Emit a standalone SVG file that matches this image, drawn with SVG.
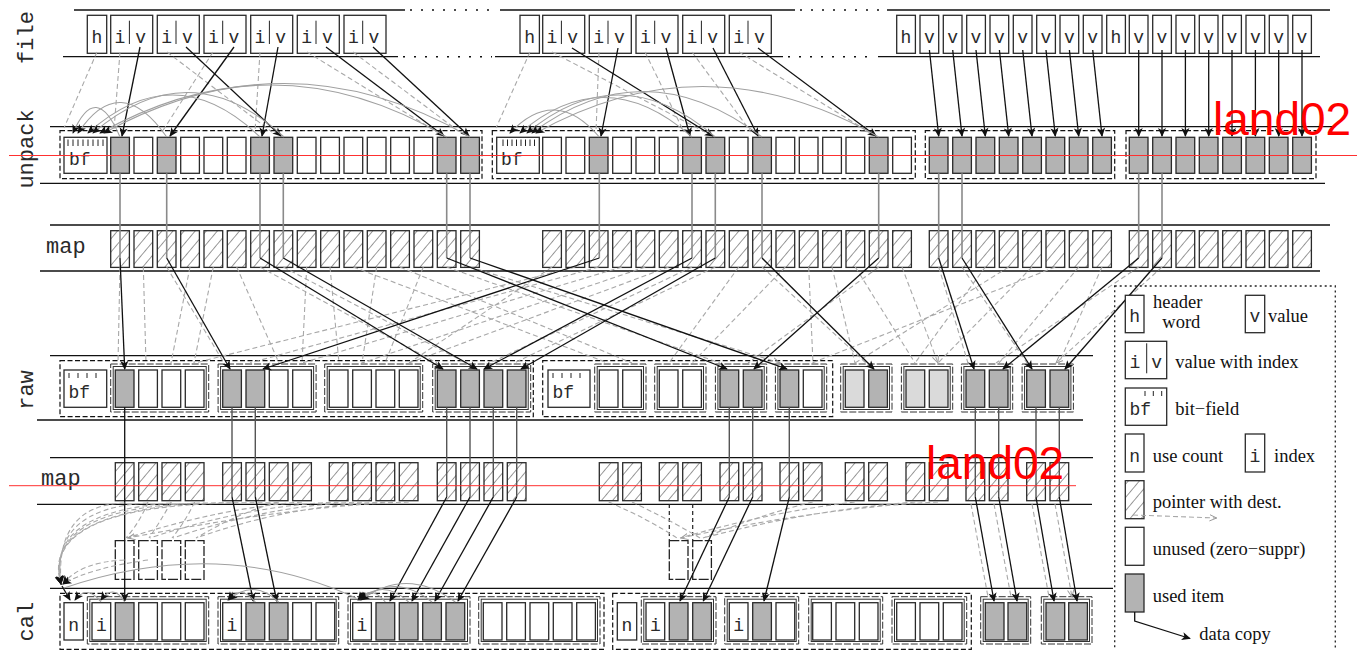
<svg xmlns="http://www.w3.org/2000/svg" width="1357" height="650" viewBox="0 0 1357 650">
<defs>
<pattern id="hatch" width="8.5" height="8.5" patternUnits="userSpaceOnUse" patternTransform="rotate(40)">
<line x1="0" y1="0" x2="0" y2="8.5" stroke="#333" stroke-width="1"/>
</pattern>
<marker id="ah" viewBox="0 0 10 10" refX="9" refY="5" markerWidth="10" markerHeight="9" orient="auto" markerUnits="userSpaceOnUse"><path d="M0,0.5 L10,5 L0,9.5 L2.5,5 z" fill="#111"/></marker>
<marker id="oh" viewBox="0 0 10 10" refX="9" refY="5" markerWidth="8" markerHeight="8" orient="auto" markerUnits="userSpaceOnUse"><path d="M0,1 L9,5 L0,9" fill="none" stroke="#999" stroke-width="1.2"/></marker>
<style>
.w{fill:#fff;stroke:#2a2a2a;stroke-width:1.3}
.g{fill:#b3b3b3;stroke:#2a2a2a;stroke-width:1.3}
.l{fill:#dadada;stroke:#2a2a2a;stroke-width:1.3}
.h{fill:url(#hatch);stroke:#2a2a2a;stroke-width:1.3}
.z{fill:#fff;stroke:#222;stroke-width:1.3;stroke-dasharray:10 2}
.rl{stroke:#111;stroke-width:1.3;fill:none}
.dt{stroke:#111;stroke-width:1.5;stroke-dasharray:2 9;fill:none}
.db{fill:none;stroke:#111;stroke-width:1.2;stroke-dasharray:5 2.5}
.sb{fill:none;stroke:#333;stroke-width:1}
.sbd{fill:none;stroke:#333;stroke-width:1;stroke-dasharray:7 2}
.tk{stroke:#222;stroke-width:1}
.mono{font-family:"Liberation Mono","DejaVu Sans Mono",monospace;fill:#2a2a2a}
.cl{font-size:18px;text-anchor:middle}
.bf{font-size:18px}
.lab{font-size:22px;text-anchor:middle}
.leg{font-family:"Liberation Serif","DejaVu Serif",serif;font-size:18.5px;fill:#111}
.a{stroke:#111;stroke-width:1.3;fill:none;marker-end:url(#ah)}
.p{stroke:#a8a8a8;stroke-width:1.1;fill:none;stroke-dasharray:5 3;marker-end:url(#oh)}
.pn{stroke:#a8a8a8;stroke-width:1.1;fill:none;stroke-dasharray:5 3;marker-end:url(#ah)}
.v{stroke:#8a8a8a;stroke-width:1.6;fill:none}
.vd{stroke:#555;stroke-width:1.4;fill:none}
.arc{stroke:#a0a0a0;stroke-width:1.1;fill:none;marker-end:url(#ah)}
.arcn{stroke:#a0a0a0;stroke-width:1.1;fill:none}
.bk{stroke:#222;stroke-width:1.2;stroke-dasharray:4 3;fill:none}
.red{fill:#ff0000;font-family:"Liberation Sans",Arial,sans-serif;font-size:46px}
</style>
</defs>
<rect width="1357" height="650" fill="#fff"/>

<!-- row lines and labels -->
<g id="rows">
<path class="rl" d="M74,10 H405 M500,10 H795 M887,10 H1330"/>
<path class="dt" d="M410,10 H498 M800,10 H885"/>
<path class="rl" d="M63,56.7 H398 M495,56.7 H783 M878,56.7 H1320"/>
<path class="dt" d="M403,56.7 H492 M788,56.7 H876"/>
<path class="rl" d="M50,126.7 H1333 M40,183.3 H1325"/>
<path class="rl" d="M50,225 H1330 M40,271 H1320"/>
<path class="rl" d="M50,355.7 H1093 M37,420 H1083"/>
<path class="rl" d="M50,457.7 H1093 M37,504.3 H1092"/>
<path class="rl" d="M50,588.3 H1113"/>
<text class="mono lab" transform="translate(33,37.5) rotate(-90)">file</text>
<text class="mono lab" transform="translate(33,149) rotate(-90)">unpack</text>
<text class="mono" font-size="22" x="46" y="253">map</text>
<text class="mono lab" transform="translate(33,390) rotate(-90)">raw</text>
<text class="mono" font-size="22" x="41" y="485">map</text>
<text class="mono lab" transform="translate(33,621.7) rotate(-90)">cal</text>
</g>

<!-- file row -->
<g id="file-g1">
<rect class="w" x="87.3" y="15.3" width="19.4" height="38"/><text class="mono cl" x="97" y="43">h</text>
<rect class="w" x="110.7" y="15.3" width="42" height="38"/><line class="tk" x1="129.4" y1="20.7" x2="129.4" y2="44"/><text class="mono cl" x="120" y="43">i</text><text class="mono cl" x="140.7" y="43">v</text>
<rect class="w" x="157.3" y="15.3" width="42" height="38"/><line class="tk" x1="176" y1="20.7" x2="176" y2="44"/><text class="mono cl" x="166.6" y="43">i</text><text class="mono cl" x="187.3" y="43">v</text>
<rect class="w" x="204" y="15.3" width="42" height="38"/><line class="tk" x1="222.7" y1="20.7" x2="222.7" y2="44"/><text class="mono cl" x="213.3" y="43">i</text><text class="mono cl" x="234" y="43">v</text>
<rect class="w" x="250.7" y="15.3" width="42" height="38"/><line class="tk" x1="269.4" y1="20.7" x2="269.4" y2="44"/><text class="mono cl" x="260" y="43">i</text><text class="mono cl" x="280.7" y="43">v</text>
<rect class="w" x="297.3" y="15.3" width="42" height="38"/><line class="tk" x1="316" y1="20.7" x2="316" y2="44"/><text class="mono cl" x="306.6" y="43">i</text><text class="mono cl" x="327.3" y="43">v</text>
<rect class="w" x="344" y="15.3" width="42" height="38"/><line class="tk" x1="362.7" y1="20.7" x2="362.7" y2="44"/><text class="mono cl" x="353.3" y="43">i</text><text class="mono cl" x="374" y="43">v</text>
</g>
<g id="file-g2">
<rect class="w" x="520" y="15.3" width="19.4" height="38"/><text class="mono cl" x="529.7" y="43">h</text>
<rect class="w" x="542.7" y="15.3" width="42" height="38"/><line class="tk" x1="561.4" y1="20.7" x2="561.4" y2="44"/><text class="mono cl" x="552" y="43">i</text><text class="mono cl" x="572.7" y="43">v</text>
<rect class="w" x="589.3" y="15.3" width="42" height="38"/><line class="tk" x1="608" y1="20.7" x2="608" y2="44"/><text class="mono cl" x="598.6" y="43">i</text><text class="mono cl" x="619.3" y="43">v</text>
<rect class="w" x="636" y="15.3" width="42" height="38"/><line class="tk" x1="654.7" y1="20.7" x2="654.7" y2="44"/><text class="mono cl" x="645.3" y="43">i</text><text class="mono cl" x="666" y="43">v</text>
<rect class="w" x="682.7" y="15.3" width="42" height="38"/><line class="tk" x1="701.4" y1="20.7" x2="701.4" y2="44"/><text class="mono cl" x="692" y="43">i</text><text class="mono cl" x="712.7" y="43">v</text>
<rect class="w" x="729.3" y="15.3" width="42" height="38"/><line class="tk" x1="748" y1="20.7" x2="748" y2="44"/><text class="mono cl" x="738.6" y="43">i</text><text class="mono cl" x="759.3" y="43">v</text>
</g>
<g id="file-g3">
<rect class="w" x="896.7" y="15.3" width="18.7" height="38"/><text class="mono cl" x="906" y="43">h</text>
<rect class="w" x="920" y="15.3" width="18.7" height="38"/><text class="mono cl" x="929.4" y="43">v</text>
<rect class="w" x="943.3" y="15.3" width="18.7" height="38"/><text class="mono cl" x="952.7" y="43">v</text>
<rect class="w" x="966.7" y="15.3" width="18.7" height="38"/><text class="mono cl" x="976" y="43">v</text>
<rect class="w" x="990" y="15.3" width="18.7" height="38"/><text class="mono cl" x="999.4" y="43">v</text>
<rect class="w" x="1013.3" y="15.3" width="18.7" height="38"/><text class="mono cl" x="1022.7" y="43">v</text>
<rect class="w" x="1036.7" y="15.3" width="18.7" height="38"/><text class="mono cl" x="1046" y="43">v</text>
<rect class="w" x="1060" y="15.3" width="18.7" height="38"/><text class="mono cl" x="1069.4" y="43">v</text>
<rect class="w" x="1083.3" y="15.3" width="18.7" height="38"/><text class="mono cl" x="1092.7" y="43">v</text>
<rect class="w" x="1106.7" y="15.3" width="18.7" height="38"/><text class="mono cl" x="1116" y="43">h</text>
<rect class="w" x="1129.3" y="15.3" width="18.7" height="38"/><text class="mono cl" x="1138.7" y="43">v</text>
<rect class="w" x="1152.7" y="15.3" width="18.7" height="38"/><text class="mono cl" x="1162" y="43">v</text>
<rect class="w" x="1176" y="15.3" width="18.7" height="38"/><text class="mono cl" x="1185.4" y="43">v</text>
<rect class="w" x="1199.3" y="15.3" width="18.7" height="38"/><text class="mono cl" x="1208.7" y="43">v</text>
<rect class="w" x="1222.7" y="15.3" width="18.7" height="38"/><text class="mono cl" x="1232" y="43">v</text>
<rect class="w" x="1246" y="15.3" width="18.7" height="38"/><text class="mono cl" x="1255.4" y="43">v</text>
<rect class="w" x="1269.3" y="15.3" width="18.7" height="38"/><text class="mono cl" x="1278.7" y="43">v</text>
<rect class="w" x="1292.7" y="15.3" width="18.7" height="38"/><text class="mono cl" x="1302" y="43">v</text>
</g>

<!-- unpack row -->
<g id="unpack-g1">
<rect class="db" x="60" y="130.7" width="422" height="48"/>
<rect class="w" x="64" y="137.3" width="43" height="36"/>
<path class="tk" d="M68,139.5v6.5M73,139.5v6.5M78,139.5v6.5M83,139.5v6.5M88,139.5v6.5M93,139.5v6.5M98,139.5v6.5M103,139.5v6.5"/>
<text class="mono bf" x="69" y="165">bf</text>
<rect class="g" x="110.7" y="137.3" width="18.7" height="36"/><rect class="w" x="134" y="137.3" width="18.7" height="36"/><rect class="g" x="157.3" y="137.3" width="18.7" height="36"/><rect class="w" x="180.7" y="137.3" width="18.7" height="36"/>
<rect class="w" x="204" y="137.3" width="18.7" height="36"/><rect class="w" x="227.3" y="137.3" width="18.7" height="36"/><rect class="g" x="250.7" y="137.3" width="18.7" height="36"/><rect class="g" x="274" y="137.3" width="18.7" height="36"/>
<rect class="w" x="297.3" y="137.3" width="18.7" height="36"/><rect class="w" x="320.7" y="137.3" width="18.7" height="36"/><rect class="w" x="344" y="137.3" width="18.7" height="36"/><rect class="w" x="367.3" y="137.3" width="18.7" height="36"/>
<rect class="w" x="390.7" y="137.3" width="18.7" height="36"/><rect class="w" x="414" y="137.3" width="18.7" height="36"/><rect class="g" x="437.3" y="137.3" width="18.7" height="36"/><rect class="g" x="460.7" y="137.3" width="18.7" height="36"/>
</g>
<g id="unpack-g2">
<rect class="db" x="492.3" y="130.7" width="423" height="48"/>
<rect class="w" x="496.7" y="137.3" width="42.6" height="36"/>
<path class="tk" d="M503,139.5v6.5M507.5,139.5v6.5M512,139.5v6.5M516.5,139.5v6.5M521,139.5v6.5M525.5,139.5v6.5M530,139.5v6.5M534.5,139.5v6.5"/>
<text class="mono bf" x="501" y="165">bf</text>
<rect class="w" x="542.7" y="137.3" width="18.7" height="36"/><rect class="w" x="566" y="137.3" width="18.7" height="36"/><rect class="g" x="589.3" y="137.3" width="18.7" height="36"/><rect class="w" x="612.7" y="137.3" width="18.7" height="36"/>
<rect class="w" x="636" y="137.3" width="18.7" height="36"/><rect class="w" x="659.3" y="137.3" width="18.7" height="36"/><rect class="g" x="682.7" y="137.3" width="18.7" height="36"/><rect class="g" x="706" y="137.3" width="18.7" height="36"/>
<rect class="w" x="729.3" y="137.3" width="18.7" height="36"/><rect class="g" x="752.7" y="137.3" width="18.7" height="36"/><rect class="w" x="776" y="137.3" width="18.7" height="36"/><rect class="w" x="799.3" y="137.3" width="18.7" height="36"/>
<rect class="w" x="822.7" y="137.3" width="18.7" height="36"/><rect class="w" x="846" y="137.3" width="18.7" height="36"/><rect class="g" x="869.3" y="137.3" width="18.7" height="36"/><rect class="w" x="892.7" y="137.3" width="18.7" height="36"/>
</g>
<g id="unpack-g3">
<rect class="db" x="925.3" y="130.7" width="189.4" height="48"/>
<rect class="g" x="929.3" y="137.3" width="18.7" height="36"/><rect class="g" x="952.7" y="137.3" width="18.7" height="36"/><rect class="g" x="976" y="137.3" width="18.7" height="36"/><rect class="g" x="999.3" y="137.3" width="18.7" height="36"/>
<rect class="g" x="1022.7" y="137.3" width="18.7" height="36"/><rect class="g" x="1046" y="137.3" width="18.7" height="36"/><rect class="g" x="1069.3" y="137.3" width="18.7" height="36"/><rect class="g" x="1092.7" y="137.3" width="18.7" height="36"/>
</g>
<g id="unpack-g4">
<rect class="db" x="1126" y="130.7" width="190" height="48"/>
<rect class="g" x="1129.3" y="137.3" width="18.7" height="36"/><rect class="g" x="1152.7" y="137.3" width="18.7" height="36"/><rect class="g" x="1176" y="137.3" width="18.7" height="36"/><rect class="g" x="1199.3" y="137.3" width="18.7" height="36"/>
<rect class="g" x="1222.7" y="137.3" width="18.7" height="36"/><rect class="g" x="1246" y="137.3" width="18.7" height="36"/><rect class="g" x="1269.3" y="137.3" width="18.7" height="36"/><rect class="g" x="1292.7" y="137.3" width="18.7" height="36"/>
</g>

<!-- map row 1 -->
<g id="map1-g1">
<rect class="h" x="110.7" y="230.7" width="18.7" height="36.7"/><rect class="h" x="134" y="230.7" width="18.7" height="36.7"/><rect class="h" x="157.3" y="230.7" width="18.7" height="36.7"/><rect class="h" x="180.7" y="230.7" width="18.7" height="36.7"/>
<rect class="h" x="204" y="230.7" width="18.7" height="36.7"/><rect class="h" x="227.3" y="230.7" width="18.7" height="36.7"/><rect class="h" x="250.7" y="230.7" width="18.7" height="36.7"/><rect class="h" x="274" y="230.7" width="18.7" height="36.7"/>
<rect class="h" x="297.3" y="230.7" width="18.7" height="36.7"/><rect class="h" x="320.7" y="230.7" width="18.7" height="36.7"/><rect class="h" x="344" y="230.7" width="18.7" height="36.7"/><rect class="h" x="367.3" y="230.7" width="18.7" height="36.7"/>
<rect class="h" x="390.7" y="230.7" width="18.7" height="36.7"/><rect class="h" x="414" y="230.7" width="18.7" height="36.7"/><rect class="h" x="437.3" y="230.7" width="18.7" height="36.7"/><rect class="h" x="460.7" y="230.7" width="18.7" height="36.7"/>
</g>
<g id="map1-g2">
<rect class="h" x="542.7" y="230.7" width="18.7" height="36.7"/><rect class="h" x="566" y="230.7" width="18.7" height="36.7"/><rect class="h" x="589.3" y="230.7" width="18.7" height="36.7"/><rect class="h" x="612.7" y="230.7" width="18.7" height="36.7"/>
<rect class="h" x="636" y="230.7" width="18.7" height="36.7"/><rect class="h" x="659.3" y="230.7" width="18.7" height="36.7"/><rect class="h" x="682.7" y="230.7" width="18.7" height="36.7"/><rect class="h" x="706" y="230.7" width="18.7" height="36.7"/>
<rect class="h" x="729.3" y="230.7" width="18.7" height="36.7"/><rect class="h" x="752.7" y="230.7" width="18.7" height="36.7"/><rect class="h" x="776" y="230.7" width="18.7" height="36.7"/><rect class="h" x="799.3" y="230.7" width="18.7" height="36.7"/>
<rect class="h" x="822.7" y="230.7" width="18.7" height="36.7"/><rect class="h" x="846" y="230.7" width="18.7" height="36.7"/><rect class="h" x="869.3" y="230.7" width="18.7" height="36.7"/><rect class="h" x="892.7" y="230.7" width="18.7" height="36.7"/>
</g>
<g id="map1-g3">
<rect class="h" x="929.3" y="230.7" width="18.7" height="36.7"/><rect class="h" x="952.7" y="230.7" width="18.7" height="36.7"/><rect class="h" x="976" y="230.7" width="18.7" height="36.7"/><rect class="h" x="999.3" y="230.7" width="18.7" height="36.7"/>
<rect class="h" x="1022.7" y="230.7" width="18.7" height="36.7"/><rect class="h" x="1046" y="230.7" width="18.7" height="36.7"/><rect class="h" x="1069.3" y="230.7" width="18.7" height="36.7"/><rect class="h" x="1092.7" y="230.7" width="18.7" height="36.7"/>
</g>
<g id="map1-g4">
<rect class="h" x="1129.3" y="230.7" width="18.7" height="36.7"/><rect class="h" x="1152.7" y="230.7" width="18.7" height="36.7"/><rect class="h" x="1176" y="230.7" width="18.7" height="36.7"/><rect class="h" x="1199.3" y="230.7" width="18.7" height="36.7"/>
<rect class="h" x="1222.7" y="230.7" width="18.7" height="36.7"/><rect class="h" x="1246" y="230.7" width="18.7" height="36.7"/><rect class="h" x="1269.3" y="230.7" width="18.7" height="36.7"/><rect class="h" x="1292.7" y="230.7" width="18.7" height="36.7"/>
</g>

<!-- raw row -->
<g id="raw-g1">
<rect class="db" x="60" y="360.7" width="473.3" height="56"/>
<rect class="w" x="64" y="370" width="42.7" height="37.3"/>
<path class="tk" d="M69,373v5M78,373v5M87,373v5M96,373v5"/>
<text class="mono bf" x="68.5" y="397.5">bf</text>
<rect class="sbd" x="110.7" y="364" width="98" height="48"/><rect class="sb" x="113.2" y="366.5" width="93" height="43"/>
<rect class="sbd" x="218.1" y="364" width="98" height="48"/><rect class="sb" x="220.6" y="366.5" width="93" height="43"/>
<rect class="sbd" x="324.7" y="364" width="98" height="48"/><rect class="sb" x="327.2" y="366.5" width="93" height="43"/>
<rect class="sbd" x="432.7" y="364" width="98" height="48"/><rect class="sb" x="435.2" y="366.5" width="93" height="43"/>
<rect class="g" x="115.3" y="370" width="18.7" height="37.3"/><rect class="w" x="138.7" y="370" width="18.7" height="37.3"/><rect class="w" x="162" y="370" width="18.7" height="37.3"/><rect class="w" x="185.3" y="370" width="18.7" height="37.3"/>
<rect class="g" x="222.7" y="370" width="18.7" height="37.3"/><rect class="g" x="246" y="370" width="18.7" height="37.3"/><rect class="w" x="269.3" y="370" width="18.7" height="37.3"/><rect class="w" x="292.7" y="370" width="18.7" height="37.3"/>
<rect class="w" x="329.3" y="370" width="18.7" height="37.3"/><rect class="w" x="352.7" y="370" width="18.7" height="37.3"/><rect class="w" x="376" y="370" width="18.7" height="37.3"/><rect class="w" x="399.3" y="370" width="18.7" height="37.3"/>
<rect class="g" x="437.3" y="370" width="18.7" height="37.3"/><rect class="g" x="460.7" y="370" width="18.7" height="37.3"/><rect class="g" x="484" y="370" width="18.7" height="37.3"/><rect class="g" x="507.3" y="370" width="18.7" height="37.3"/>
</g>
<g id="raw-g2">
<rect class="db" x="542.7" y="360.7" width="290" height="56"/>
<rect class="w" x="548" y="370" width="42" height="37.3"/>
<path class="tk" d="M553,373v5M562,373v5M571,373v5M580,373v5"/>
<text class="mono bf" x="552.5" y="397.5">bf</text>
<rect class="sbd" x="594.7" y="364" width="51.3" height="48"/><rect class="sb" x="597.2" y="366.5" width="46.3" height="43"/>
<rect class="sbd" x="654.7" y="364" width="51.3" height="48"/><rect class="sb" x="657.2" y="366.5" width="46.3" height="43"/>
<rect class="sbd" x="715.4" y="364" width="51.3" height="48"/><rect class="sb" x="717.9" y="366.5" width="46.3" height="43"/>
<rect class="sbd" x="775.4" y="364" width="51.3" height="48"/><rect class="sb" x="777.9" y="366.5" width="46.3" height="43"/>
<rect class="w" x="599.3" y="370" width="18.7" height="37.3"/><rect class="w" x="622.7" y="370" width="18.7" height="37.3"/>
<rect class="w" x="659.3" y="370" width="18.7" height="37.3"/><rect class="w" x="682.7" y="370" width="18.7" height="37.3"/>
<rect class="g" x="720" y="370" width="18.7" height="37.3"/><rect class="g" x="743.3" y="370" width="18.7" height="37.3"/>
<rect class="g" x="780" y="370" width="18.7" height="37.3"/><rect class="w" x="803.3" y="370" width="18.7" height="37.3"/>
</g>
<g id="raw-g3">
<rect class="sbd" x="840.7" y="364" width="51.3" height="48"/><rect class="sb" x="843.2" y="366.5" width="46.3" height="43"/>
<rect class="sbd" x="901.4" y="364" width="51.3" height="48"/><rect class="sb" x="903.9" y="366.5" width="46.3" height="43"/>
<rect class="sbd" x="961.4" y="364" width="51.3" height="48"/><rect class="sb" x="963.9" y="366.5" width="46.3" height="43"/>
<rect class="sbd" x="1022.1" y="364" width="51.3" height="48"/><rect class="sb" x="1024.6" y="366.5" width="46.3" height="43"/>
<rect class="l" x="845.3" y="370" width="18.7" height="37.3"/><rect class="g" x="868.7" y="370" width="18.7" height="37.3"/>
<rect class="l" x="906" y="370" width="18.7" height="37.3"/><rect class="l" x="929.3" y="370" width="18.7" height="37.3"/>
<rect class="g" x="966" y="370" width="18.7" height="37.3"/><rect class="g" x="989.3" y="370" width="18.7" height="37.3"/>
<rect class="g" x="1026.7" y="370" width="18.7" height="37.3"/><rect class="g" x="1050" y="370" width="18.7" height="37.3"/>
</g>

<!-- map row 2 -->
<g id="map2">
<rect class="h" x="115.3" y="462.7" width="18.7" height="38"/><rect class="h" x="138.7" y="462.7" width="18.7" height="38"/><rect class="h" x="162" y="462.7" width="18.7" height="38"/><rect class="h" x="185.3" y="462.7" width="18.7" height="38"/>
<rect class="h" x="222.7" y="462.7" width="18.7" height="38"/><rect class="h" x="246" y="462.7" width="18.7" height="38"/><rect class="h" x="269.3" y="462.7" width="18.7" height="38"/><rect class="h" x="292.7" y="462.7" width="18.7" height="38"/>
<rect class="h" x="329.3" y="462.7" width="18.7" height="38"/><rect class="h" x="352.7" y="462.7" width="18.7" height="38"/><rect class="h" x="376" y="462.7" width="18.7" height="38"/><rect class="h" x="399.3" y="462.7" width="18.7" height="38"/>
<rect class="h" x="437.3" y="462.7" width="18.7" height="38"/><rect class="h" x="460.7" y="462.7" width="18.7" height="38"/><rect class="h" x="484" y="462.7" width="18.7" height="38"/><rect class="h" x="507.3" y="462.7" width="18.7" height="38"/>
<rect class="h" x="599.3" y="462.7" width="18.7" height="38"/><rect class="h" x="622.7" y="462.7" width="18.7" height="38"/>
<rect class="h" x="659.3" y="462.7" width="18.7" height="38"/><rect class="h" x="682.7" y="462.7" width="18.7" height="38"/>
<rect class="h" x="720" y="462.7" width="18.7" height="38"/><rect class="h" x="743.3" y="462.7" width="18.7" height="38"/>
<rect class="h" x="780" y="462.7" width="18.7" height="38"/><rect class="h" x="803.3" y="462.7" width="18.7" height="38"/>
<rect class="h" x="845.3" y="462.7" width="18.7" height="38"/><rect class="h" x="868.7" y="462.7" width="18.7" height="38"/>
<rect class="h" x="906" y="462.7" width="18.7" height="38"/><rect class="h" x="929.3" y="462.7" width="18.7" height="38"/>
<rect class="h" x="966" y="462.7" width="18.7" height="38"/><rect class="h" x="989.3" y="462.7" width="18.7" height="38"/>
<rect class="h" x="1026.7" y="462.7" width="18.7" height="38"/><rect class="h" x="1050" y="462.7" width="18.7" height="38"/>
</g>

<!-- zero-suppressed placeholders -->
<g id="zero">
<rect class="z" x="115.3" y="540.7" width="18.7" height="38.6"/><rect class="z" x="138.7" y="540.7" width="18.7" height="38.6"/><rect class="z" x="162" y="540.7" width="18.7" height="38.6"/><rect class="z" x="185.3" y="540.7" width="18.7" height="38.6"/>
<rect class="z" x="669.3" y="540.7" width="18.7" height="38.6"/><rect class="z" x="692.7" y="540.7" width="18.7" height="38.6"/>
</g>

<!-- cal row -->
<g id="cal-g1">
<rect class="db" x="60" y="593.3" width="544" height="56"/>
<rect class="w" x="64" y="602.7" width="19.3" height="37.3"/><text class="mono cl" x="73.7" y="630.5">n</text>
<rect class="sbd" x="87.3" y="596.7" width="121.4" height="47.3"/><rect class="sb" x="89.8" y="599.2" width="116.4" height="42.3"/>
<rect class="sbd" x="218" y="596.7" width="120.7" height="47.3"/><rect class="sb" x="220.5" y="599.2" width="115.7" height="42.3"/>
<rect class="sbd" x="348" y="596.7" width="122" height="47.3"/><rect class="sb" x="350.5" y="599.2" width="117" height="42.3"/>
<rect class="sbd" x="478.7" y="596.7" width="121.3" height="47.3"/><rect class="sb" x="481.2" y="599.2" width="116.3" height="42.3"/>
<rect class="w" x="92" y="602.7" width="18.7" height="37.3"/><text class="mono cl" x="101.3" y="630.5">i</text>
<rect class="g" x="115.3" y="602.7" width="18.7" height="37.3"/><rect class="w" x="138.7" y="602.7" width="18.7" height="37.3"/><rect class="w" x="162" y="602.7" width="18.7" height="37.3"/><rect class="w" x="185.3" y="602.7" width="18.7" height="37.3"/>
<rect class="w" x="222.7" y="602.7" width="18.7" height="37.3"/><text class="mono cl" x="232" y="630.5">i</text>
<rect class="g" x="246" y="602.7" width="18.7" height="37.3"/><rect class="g" x="269.3" y="602.7" width="18.7" height="37.3"/><rect class="w" x="292.7" y="602.7" width="18.7" height="37.3"/><rect class="w" x="316" y="602.7" width="18.7" height="37.3"/>
<rect class="w" x="352.7" y="602.7" width="18.7" height="37.3"/><text class="mono cl" x="362" y="630.5">i</text>
<rect class="g" x="376" y="602.7" width="18.7" height="37.3"/><rect class="g" x="399.3" y="602.7" width="18.7" height="37.3"/><rect class="g" x="422.7" y="602.7" width="18.7" height="37.3"/><rect class="g" x="446" y="602.7" width="18.7" height="37.3"/>
<rect class="w" x="483.3" y="602.7" width="18.7" height="37.3"/><rect class="w" x="506.7" y="602.7" width="18.7" height="37.3"/><rect class="w" x="530" y="602.7" width="18.7" height="37.3"/><rect class="w" x="553.3" y="602.7" width="18.7" height="37.3"/><rect class="w" x="576.7" y="602.7" width="18.7" height="37.3"/>
</g>
<g id="cal-g2">
<rect class="db" x="612.7" y="593.3" width="358.6" height="56"/>
<rect class="w" x="617.3" y="602.7" width="19.4" height="37.3"/><text class="mono cl" x="627" y="630.5">n</text>
<rect class="sbd" x="641.3" y="596.7" width="74.7" height="47.3"/><rect class="sb" x="643.8" y="599.2" width="69.7" height="42.3"/>
<rect class="sbd" x="724.7" y="596.7" width="74" height="47.3"/><rect class="sb" x="727.2" y="599.2" width="69" height="42.3"/>
<rect class="sbd" x="808.7" y="596.7" width="74" height="47.3"/><rect class="sb" x="811.2" y="599.2" width="69" height="42.3"/>
<rect class="sbd" x="892" y="596.7" width="74.7" height="47.3"/><rect class="sb" x="894.5" y="599.2" width="69.7" height="42.3"/>
<rect class="w" x="646" y="602.7" width="18.7" height="37.3"/><text class="mono cl" x="655.3" y="630.5">i</text>
<rect class="g" x="669.3" y="602.7" width="18.7" height="37.3"/><rect class="g" x="692.7" y="602.7" width="18.7" height="37.3"/>
<rect class="w" x="729.3" y="602.7" width="18.7" height="37.3"/><text class="mono cl" x="738.6" y="630.5">i</text>
<rect class="g" x="752.7" y="602.7" width="18.7" height="37.3"/><rect class="w" x="776" y="602.7" width="18.7" height="37.3"/>
<rect class="w" x="812.7" y="602.7" width="18.7" height="37.3"/><rect class="w" x="836" y="602.7" width="18.7" height="37.3"/><rect class="w" x="859.3" y="602.7" width="18.7" height="37.3"/>
<rect class="w" x="896.7" y="602.7" width="18.7" height="37.3"/><rect class="w" x="920" y="602.7" width="18.7" height="37.3"/><rect class="w" x="943.3" y="602.7" width="18.7" height="37.3"/>
</g>
<g id="cal-g3">
<rect class="sbd" x="980.7" y="596.7" width="50" height="47.3"/><rect class="sb" x="983.2" y="599.2" width="45" height="42.3"/>
<rect class="sbd" x="1041.3" y="596.7" width="50.7" height="47.3"/><rect class="sb" x="1043.8" y="599.2" width="45.7" height="42.3"/>
<rect class="g" x="985.3" y="602.7" width="18.7" height="37.3"/><rect class="g" x="1008" y="602.7" width="18.7" height="37.3"/>
<rect class="g" x="1046" y="602.7" width="18.7" height="37.3"/><rect class="g" x="1068.7" y="602.7" width="18.7" height="37.3"/>
</g>

<!-- connectors -->
<g id="connectors">
<path class="p" d="M97,52 L64,128 M120,52 L114,130 M167,52 L272,132 M213,52 L162,132 M260,52 L255,132 M307,52 L437,132 M353,52 L457,130 M530,52 L496,128 M552,52 L705,132 M599,52 L596,132 M645,52 L684,132 M692,52 L751,132 M739,52 L869,132"/>
<path class="a" d="M140,47 L122,136"/><path class="a" d="M186,47 L281,136"/><path class="a" d="M234,47 L170,136"/><path class="a" d="M278,47 L262,136"/><path class="a" d="M326,47 L444,136"/><path class="a" d="M373,47 L469,136"/>
<path class="a" d="M572,48 L713,136"/><path class="a" d="M618,48 L601,136"/><path class="a" d="M666,48 L690,136"/><path class="a" d="M713,48 L758,136"/><path class="a" d="M758,48 L876,136"/>
<path class="a" d="M929.4,50 L938.7,136"/><path class="a" d="M952.7,50 L962,136"/><path class="a" d="M976,50 L985.3,136"/><path class="a" d="M999.4,50 L1008.7,136"/><path class="a" d="M1022.7,50 L1032,136"/><path class="a" d="M1046,50 L1055.3,136"/><path class="a" d="M1069.4,50 L1078.7,136"/><path class="a" d="M1092.7,50 L1102,136"/>
<path class="a" d="M1138.7,50 V136"/><path class="a" d="M1162,50 V136"/><path class="a" d="M1185.4,50 V136"/><path class="a" d="M1208.7,50 V136"/><path class="a" d="M1232,50 V136"/><path class="a" d="M1255.4,50 V136"/><path class="a" d="M1278.7,50 V136"/><path class="a" d="M1302,50 V136"/>
<path class="arc" d="M120,137 Q96,80 73,133"/><path class="arc" d="M166.7,137 Q120,70 78,133"/><path class="arc" d="M260,137 Q175,55 88,133"/><path class="arc" d="M284,137 Q190,50 93,133"/><path class="arc" d="M446.7,137 Q275,35 100,133"/><path class="arc" d="M470,137 Q288,32 104,133"/>
<path class="arc" d="M599.3,137 Q555,85 510,133"/><path class="arc" d="M692,137 Q605,60 520,133"/><path class="arc" d="M715.3,137 Q620,55 527,133"/><path class="arc" d="M762,137 Q645,48 532,133"/><path class="arc" d="M878.7,137 Q705,38 536,133"/>
<path class="v" d="M120,173.3V258 M166.7,173.3V258 M260,173.3V258 M283.3,173.3V258 M446.7,173.3V258 M470,173.3V258 M599.3,173.3V258 M692,173.3V258 M715.3,173.3V258 M762,173.3V258 M878.7,173.3V258 M938.7,173.3V258 M962,173.3V258 M1138.7,173.3V258 M1162,173.3V258"/>
<path class="p" d="M120,267 L118,363 M143.3,267 L146,363 M166.7,267 L224,363 M190,267 L171,363 M213.3,267 L194,363 M236.7,267 L279,363 M260,267 L437,363 M283.3,267 L466,363 M306.7,267 L302,363 M330,267 L339,363 M353.3,267 L608,363 M376.7,267 L362,363 M400,267 L632,363 M423.3,267 L385,363 M446.7,267 L720,363 M470,267 L780,363"/>
<path class="p" d="M552,267 L409,363 M575.3,267 L195,363 M598.7,267 L250,363 M622,267 L302,363 M645.3,267 L362,363 M668.7,267 L409,363 M692,267 L490,363 M715.3,267 L514,363 M738.7,267 L669,363 M762,267 L866,363 M785.3,267 L692,363 M808.7,267 L813,363 M832,267 L855,363 M855.3,267 L915,363 M878.7,267 L748,363 M902,267 L938,363"/>
<path class="p" d="M938.7,267 L968,363 M962,267 L1027,363 M985.3,267 L915,363 M1008.7,267 L855,363 M1032,267 L938,363 M1055.3,267 L812,363 M1078.7,267 L999,363 M1102,267 L1059,363 M1138.7,267 L996,363 M1162,267 L1056,363"/>
<path class="a" d="M120,258 L124.7,369"/><path class="a" d="M166.7,258 L230,369"/><path class="a" d="M260,258 L443,369"/><path class="a" d="M283.3,258 L477,369"/><path class="a" d="M446.7,258 L727,369"/><path class="a" d="M470,258 L787,369"/>
<path class="a" d="M599.3,258 L263,369"/><path class="a" d="M692,258 L484,369"/><path class="a" d="M715.3,258 L521,369"/><path class="a" d="M762,258 L874,369"/><path class="a" d="M878.7,258 L754,369"/>
<path class="a" d="M938.7,258 L974,369"/><path class="a" d="M962,258 L1032,369"/><path class="a" d="M1138.7,258 L1003,369"/><path class="a" d="M1162,258 L1065,369"/>
<path class="vd" d="M232,407.3V497 M255.3,407.3V497 M446.7,407.3V497 M470,407.3V497 M493.3,407.3V497 M516.7,407.3V497 M729.3,407.3V497 M752.7,407.3V497 M789.3,407.3V497 M975.3,407.3V497 M998.7,407.3V497 M1036,407.3V497 M1059.3,407.3V497"/>
<path class="a" d="M124.7,407.3 V601"/>
<path class="bk" d="M669.3,504 V540 M692.7,504 V540"/>
<path class="p" d="M148,502 Q140,522 126,538 M171.3,502 Q160,522 149,538 M194.7,502 Q185,522 172,538 M278.7,502 Q240,512 196,538 M302,502 Q220,508 127,538 M338.7,502 Q250,505 150,538 M362,502 Q270,505 173,538 M385.3,502 Q290,505 196,538 M408.7,502 Q300,505 128,538"/>
<path class="p" d="M608.7,502 Q650,520 677,538 M632,502 Q670,520 700,538 M812.7,502 Q760,515 703,538 M854.7,502 Q770,512 680,538 M915.3,502 Q810,510 703,538 M938,502 Q820,508 681,538"/>
<path class="p" d="M971,504 L988,597 M994,504 L1011,597 M1032,504 L1049,597 M1055,504 L1072,597"/>
<path class="pn" d="M124.7,503 Q55,505 61,584"/><path class="pn" d="M148,503 Q50,508 61,584"/><path class="pn" d="M171.3,503 Q45,512 61,584"/><path class="pn" d="M194.7,503 Q40,516 61,584"/><path class="pn" d="M232,503 Q42,500 61,584"/><path class="pn" d="M278.7,503 Q38,498 61,584"/><path class="pn" d="M124.7,560 Q80,562 63,584"/><path class="pn" d="M148,560 Q90,568 63,584"/>
<path class="a" d="M232,497 L253.3,601"/><path class="a" d="M255.3,497 L276.7,601"/>
<path class="a" d="M446.7,497 L390,601"/><path class="a" d="M470,497 L412,601"/><path class="a" d="M493.3,497 L435,601"/><path class="a" d="M516.7,497 L458,601"/>
<path class="a" d="M729.3,497 L680,601"/><path class="a" d="M752.7,497 L703.3,601"/><path class="a" d="M789.3,497 L764,601"/>
<path class="a" d="M975.3,497 L994,601"/><path class="a" d="M998.7,497 L1017,601"/><path class="a" d="M1036,497 L1054,601"/><path class="a" d="M1059.3,497 L1077,601"/>
<path class="a" d="M62,586 L70,600"/>
<path class="arcn" d="M356,598 Q220,535 64,588"/>
<path class="arc" d="M124.7,602 Q113,583 101,600"/><path class="arc" d="M101,602 Q87,584 75,600"/>
<path class="arc" d="M255.3,602 Q241,584 228,600"/><path class="arc" d="M278.7,602 Q253,578 229,600"/>
<path class="arc" d="M385.3,602 Q371,584 358,600"/><path class="arc" d="M408.7,602 Q383,578 359,600"/><path class="arc" d="M432,602 Q395,572 360,600"/><path class="arc" d="M455.3,602 Q407,566 361,600"/>
</g>

<!-- legend -->
<g id="legend">
<rect x="1114.7" y="286" width="220.6" height="370" fill="none" stroke="#222" stroke-width="1.3" stroke-dasharray="2 3"/>
<rect class="w" x="1125.3" y="295.3" width="18.7" height="37.4"/><text class="mono cl" x="1134.7" y="321.7">h</text>
<text class="leg" x="1153" y="308">header</text><text class="leg" x="1162.3" y="327.7">word</text>
<rect class="w" x="1245.3" y="295.3" width="19.4" height="37.4"/><text class="mono cl" x="1255" y="321.7">v</text>
<text class="leg" x="1268" y="321.7">value</text>
<rect class="w" x="1125.3" y="341.3" width="41.4" height="37.4"/><line class="tk" x1="1146.7" y1="343.3" x2="1146.7" y2="373.3"/>
<text class="mono cl" x="1135" y="368.3">i</text><text class="mono cl" x="1156.7" y="368.3">v</text>
<text class="leg" x="1175.3" y="368.3">value with index</text>
<rect class="w" x="1125.3" y="388" width="41.4" height="37.3"/>
<path class="tk" d="M1145,391v5M1153.3,391v5M1161.7,391v5"/>
<text class="mono bf" x="1129.5" y="415">bf</text>
<text class="leg" x="1175.3" y="415">bit−field</text>
<rect class="w" x="1125.3" y="434" width="18.7" height="38"/><text class="mono cl" x="1134.7" y="461.7">n</text>
<text class="leg" x="1152.7" y="461.7">use count</text>
<rect class="w" x="1245.3" y="434" width="19.4" height="38"/><text class="mono cl" x="1255" y="461.7">i</text>
<text class="leg" x="1274" y="461.7">index</text>
<rect class="h" x="1125.3" y="480.7" width="18.7" height="38"/>
<path class="p" d="M1133,515 L1216.7,518"/>
<text class="leg" x="1152.7" y="508.3">pointer with dest.</text>
<rect class="w" x="1125.3" y="527.3" width="18.7" height="38"/>
<text class="leg" x="1152.7" y="555">unused (zero−suppr)</text>
<rect class="g" x="1125.3" y="574" width="18.7" height="38"/>
<text class="leg" x="1152.7" y="601.7">used item</text>
<path class="a" d="M1134.7,612 V621 L1190,638.5"/>
<text class="leg" x="1199.3" y="640">data copy</text>
</g>

<!-- red annotations -->
<g id="annotations">
<line x1="9" y1="155.5" x2="1357" y2="155.5" stroke="#ff3030" stroke-width="1"/>
<line x1="9" y1="485.7" x2="1076" y2="485.7" stroke="#ff3030" stroke-width="1"/>
<text class="red" x="1213" y="135">land02</text>
<text class="red" x="926" y="479.3">land02</text>
</g>
</svg>
